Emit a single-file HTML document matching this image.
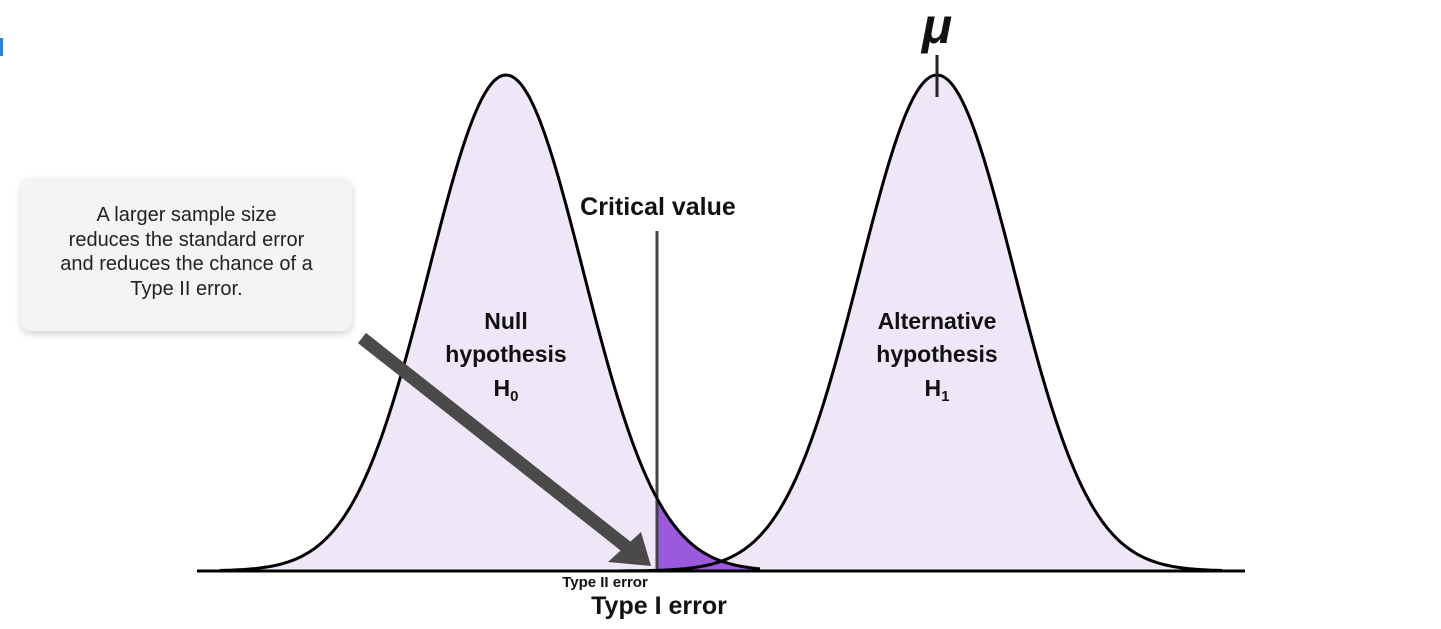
<!DOCTYPE html>
<html><head><meta charset="utf-8"><style>
body{margin:0;width:1441px;height:629px;background:#fff;overflow:hidden;font-family:"Liberation Sans",sans-serif}
#box{position:absolute;left:21px;top:178px;width:331px;height:153px;background:#f4f4f4;border-radius:10px;box-shadow:0 3px 8px rgba(0,0,0,.18);text-align:center;font-size:20px;line-height:24.5px;color:#222;box-sizing:border-box;padding-top:25px}
</style></head><body>
<svg width="1441" height="629" style="position:absolute;left:0;top:0">
<rect x="0" y="38" width="3" height="18" fill="#1e88e5"/>
<g id="g"></g>
</svg>
<div id="box">A larger sample size<br>reduces the standard error<br>and reduces the chance of a<br>Type II error.</div>
<script>
const names=["null","alternative"];
const means=[506,937];
const sds=[77,77];
const peaks=[496,496];
const critical=[657];
const baseY=571;
const ns="http://www.w3.org/2000/svg";
const g=document.getElementById('g');
function yv(i,x){return baseY-peaks[i]*Math.exp(-Math.pow(x-means[i],2)/(2*sds[i]*sds[i]));}
function mk(t,a){const e=document.createElementNS(ns,t);for(const k in a)e.setAttribute(k,a[k]);g.appendChild(e);return e;}
function pts(i,x0,x1){let s=[];for(let x=x0;x<=x1;x+=2)s.push(x+","+yv(i,x).toFixed(1));return s;}
const r=[[220,760],[620,1222]];
let e;
e=mk('polygon',{points:[r[0][0]+","+baseY].concat(pts(0,r[0][0],critical[0])).concat([critical[0]+","+baseY]).join(' '),fill:'#efe7f8'});


e=mk('polygon',{points:[r[1][0]+","+baseY].concat(pts(1,r[1][0],r[1][1])).concat([r[1][1]+","+baseY]).join(' '),fill:'#efe7f8'});


e=mk('polygon',{points:[critical[0]+","+baseY].concat(pts(0,critical[0],r[0][1])).concat([r[0][1]+","+baseY]).join(' '),fill:'#9b59dd'});


e=mk('line',{x1:197,y1:baseY,x2:1245,y2:baseY,stroke:'#000','stroke-width':3});


e=mk('line',{x1:critical[0],y1:231,x2:critical[0],y2:baseY,stroke:'#444','stroke-width':3});


for(let i=0;i<2;i++){
e=mk('polyline',{points:pts(i,r[i][0],r[i][1]).join(' '),fill:'none',stroke:'#000','stroke-width':3});


}
e=mk('line',{x1:means[1],y1:55,x2:means[1],y2:97,stroke:'#222','stroke-width':3});


e=mk('line',{x1:362,y1:338,x2:628,y2:548,stroke:'#4a4a4a','stroke-width':13});


e=mk('polygon',{points:'651,566 608,562 641,532',fill:'#4a4a4a'});


function txt(x,y,s,sz,w,name,st){const t=mk('text',{x:x,y:y,'font-size':sz,'font-weight':w,'text-anchor':'middle',fill:'#111','font-style':st||'normal'});t.textContent=s;

return t;}
txt(937,43,'μ',50,'bold','mu-label','italic');
txt(658,215,'Critical value',25,'bold','critical-value-label');
txt(506,329,'Null',23,'bold','null-label');
txt(506,362,'hypothesis',23,'bold','null-label-2');
let t=txt(506,396,'H',23,'bold','null-symbol');t.innerHTML='H<tspan font-size="15" dy="5">0</tspan>';
txt(937,329,'Alternative',23,'bold','alt-label');
txt(937,362,'hypothesis',23,'bold','alt-label-2');
t=txt(937,396,'H',23,'bold','alt-symbol');t.innerHTML='H<tspan font-size="15" dy="5">1</tspan>';
txt(605,587,'Type II error',15,'bold','type-two-label');
txt(659,614,'Type I error',25,'bold','type-one-label');
</script>
</body></html>
